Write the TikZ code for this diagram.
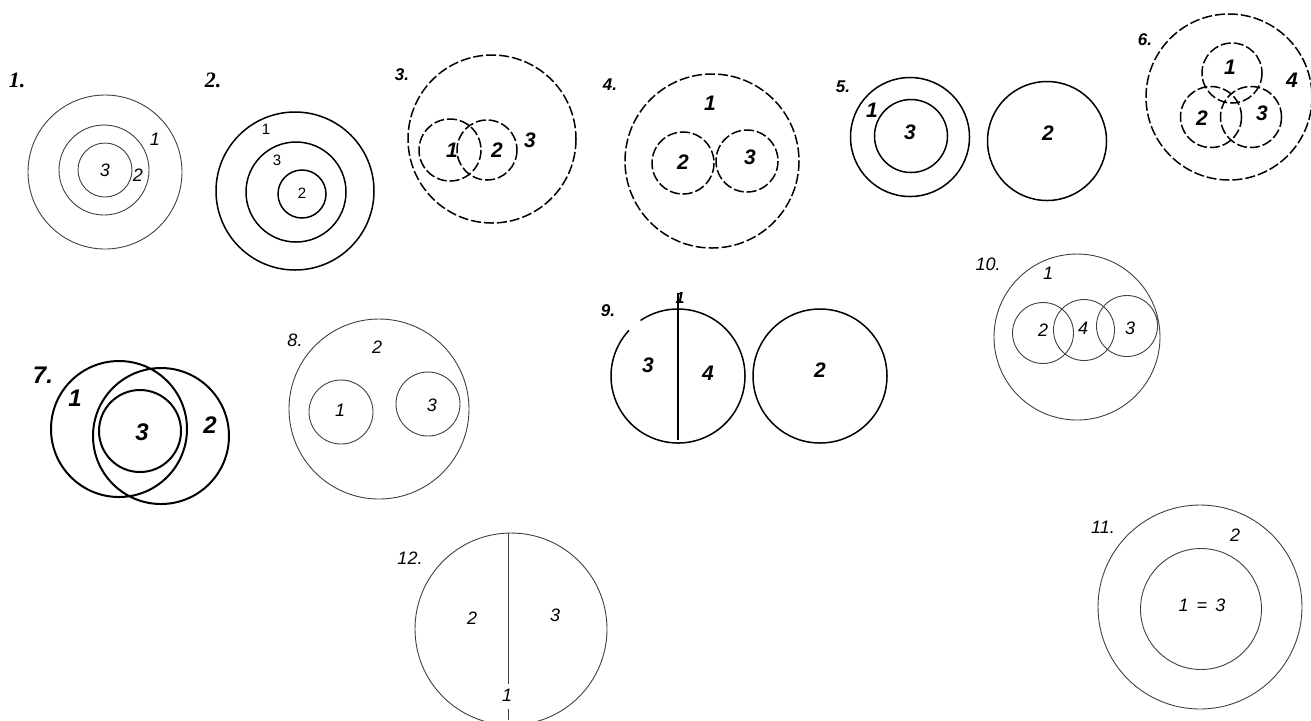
\documentclass[tikz,border=0pt]{standalone}
\usepackage{fontspec}
\setmainfont{Liberation Serif}
\newfontfamily\numfont{Liberation Sans}
\tikzset{
  thinset/.style={draw=black!75, line width=0.45pt},
  boldset/.style={draw=black, line width=0.75pt},
  dashset/.style={draw=black, line width=0.75pt, dash pattern=on 5pt off 1.5pt},
  heavyset/.style={draw=black, line width=1pt},
  tag/.style={font=\fontsize{11}{11}\selectfont\bfseries\itshape, inner sep=0pt},
  smalltag/.style={font=\numfont\fontsize{8.5}{8.5}\selectfont\bfseries\itshape, inner sep=0pt},
  num/.style={font=\numfont\fontsize{9}{9}\selectfont\itshape, inner sep=0pt},
  boldnum/.style={font=\numfont\fontsize{10.5}{10.5}\selectfont\bfseries\itshape, inner sep=0pt},
  plainnum/.style={font=\numfont\fontsize{7.5}{7.5}\selectfont, inner sep=0pt}
}
\begin{document}
\begin{tikzpicture}[x=0.5pt,y=-0.5pt]
\useasboundingbox (0,0) rectangle (1311,720);
% 1.
\draw[thinset] (105,172) circle (77) (104,170) circle (45) (105,170) circle (27);
\node[tag] (t1) at (17,80) {1.};
\node[num] (a3) at (105,170) {3};
\node[num] (a2) at (138,175) {2};
\node[num] (a1) at (155,139) {1};
% 2.
\draw[boldset] (295,191) circle (79) (296,192) circle (50) (302,194) circle (24);
\node[tag] (t2) at (213,80) {2.};
\node[plainnum] (b1) at (266,129) {1};
\node[plainnum] (b3) at (277,160) {3};
\node[plainnum] (b2) at (302,193) {2};
% 3.
\draw[dashset] (492,139) circle (84) (450,150) circle (31) (487,150) circle (30);
\node[smalltag] (t3) at (402,75) {3.};
\node[boldnum] (c1) at (452,150) {1};
\node[boldnum] (c2) at (497,150) {2};
\node[boldnum] (c3) at (530,140) {3};
% 4.
\draw[dashset] (712,161) circle (87) (683,163) circle (31) (747,161) circle (31);
\node[smalltag] (t4) at (610,85) {4.};
\node[boldnum] (e1) at (710,103) {1};
\node[boldnum] (e2) at (683,162) {2};
\node[boldnum] (e3) at (750,157) {3};
% 5.
\draw[boldset] (910,137) circle (59.5) (911,136) circle (36.5) (1047,141) circle (59.5);
\node[smalltag] (t5) at (843,87) {5.};
\node[boldnum] (f1) at (872,110) {1};
\node[boldnum] (f3) at (910,132) {3};
\node[boldnum] (f2) at (1048,133) {2};
% 6.
\draw[dashset] (1229,97) circle (83) (1232,73) circle (30) (1211,117) circle (30.5) (1251,117) circle (30.5);
\node[smalltag] (t6) at (1145,40) {6.};
\node[boldnum] (g1) at (1230,67) {1};
\node[boldnum] (g2) at (1202,118) {2};
\node[boldnum] (g3) at (1262,113) {3};
\node[boldnum] (g4) at (1292,80) {4};
% 7.
\draw[heavyset] (119,429) circle (68) (161,436) circle (68) (140,431) circle (41);
\node[tag, font=\numfont\fontsize{12}{12}\selectfont\bfseries\itshape] (t7) at (43,375) {7.};
\node[boldnum, font=\numfont\fontsize{12}{12}\selectfont\bfseries\itshape] (h1) at (75,398) {1};
\node[boldnum, font=\numfont\fontsize{12}{12}\selectfont\bfseries\itshape] (h3) at (142,432) {3};
\node[boldnum, font=\numfont\fontsize{12}{12}\selectfont\bfseries\itshape] (h2) at (210,425) {2};
% 8.
\draw[thinset] (379,409) circle (90) (341,412) circle (32) (428,404) circle (32);
\node[num] (t8) at (295,340) {8.};
\node[num] (k2) at (377,347) {2};
\node[num] (k1) at (340,410) {1};
\node[num] (k3) at (432,405) {3};
% 9.
\draw[boldset] (678,376) ++(-124:67) arc (-124:208:67);
\draw[boldset] (678,376) ++(-152:67) arc (-152:-137:67);
\draw[boldset] (820,376) circle (67);
\coordinate (m9top) at (678,293);
\coordinate (m9bot) at (678,440);
\draw[heavyset] (m9top) -- (m9bot);
\node[smalltag] (t9) at (608,311) {9.};
\node[boldnum, font=\numfont\fontsize{8}{8}\selectfont\bfseries\itshape] (n1) at (680,298) {1};
\node[boldnum] (n3) at (648,365) {3};
\node[boldnum] (n4) at (708,373) {4};
\node[boldnum] (n2) at (820,370) {2};
% 10.
\draw[thinset] (1077,337) circle (83) (1043,333) circle (30.5) (1084,330) circle (30.5) (1127,326) circle (30.5);
\node[num] (t10) at (988,264) {10.};
\node[num] (p1) at (1048,273) {1};
\node[num] (p2) at (1043,330) {2};
\node[num] (p4) at (1083,328) {4};
\node[num] (p3) at (1130,328) {3};
% 11.
\draw[thinset] (1200,607) circle (102) (1201,609) circle (60.5);
\node[num] (t11) at (1103,527) {11.};
\node[num] (q2) at (1235,535) {2};
\node[num] (q13) at (1202,605) {1 \,=\, 3};
% 12.
\draw[thinset] (511,629) circle (96);
\coordinate (r12top) at (508,533);
\coordinate (r12mid) at (508,684);
\coordinate (r12low) at (508,709);
\coordinate (r12bot) at (508,720);
\draw[thinset] (r12top) -- (r12mid) (r12low) -- (r12bot);
\node[num] (t12) at (410,558) {12.};
\node[num] (s2) at (472,618) {2};
\node[num] (s3) at (555,615) {3};
\node[num] (s1) at (507,695) {1};
\end{tikzpicture}
\end{document}
